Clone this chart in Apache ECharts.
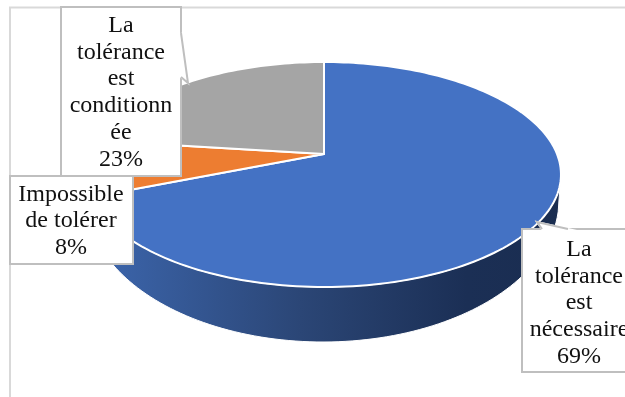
<!DOCTYPE html>
<html>
<head>
<meta charset="utf-8">
<style>html,body{margin:0;padding:0;background:#fff}#chart{width:625px;height:397px}</style>
<script src="https://cdn.jsdelivr.net/npm/echarts@6/dist/echarts.min.js"></script>
</head>
<body>
<div id="chart"></div>
<script>
// Parts of the pie, clockwise from twelve o'clock
const categories = ['La tolérance est nécessaire', 'Impossible de tolérer', 'La tolérance est conditionnée'];
const values = [69, 8, 23];
const colors = ['#4472C4', '#ED7D31', '#A5A5A5'];
const labelLines = [
  ['La', 'tolérance', 'est', 'nécessaire'],
  ['Impossible', 'de tolérer'],
  ['La', 'tolérance', 'est', 'conditionn', 'ée']
];

// Tilted disc: perspective projection of a unit circle around the pie's apex
const apex = { x: 324, y: 154 };
const farEdge = 92, nearEdge = 133, halfWidth = 233;
const k = (nearEdge - farEdge) / (nearEdge + farEdge);
const A = farEdge * (1 + k);
const total = values.reduce((a, b) => a + b, 0);

function project(theta) {
  const u = Math.sin(theta), v = Math.cos(theta), w = 1 + k * v;
  return [apex.x + halfWidth * u / w, apex.y - A * v / w];
}
function arc(from, to) {
  const pts = [], n = Math.max(2, Math.ceil(Math.abs(to - from) * 40));
  for (let i = 0; i <= n; i++) pts.push(project(from + (to - from) * i / n));
  return pts;
}
function sliceAngles(i) {
  const before = values.slice(0, i).reduce((a, b) => a + b, 0);
  return [before / total * 2 * Math.PI, (before + values[i]) / total * 2 * Math.PI];
}

// Lower rim of the disc's edge
const rim = { cx: 323, cy: 200, rx: 236, ry: 142 };
const rightExtreme = Math.PI / 2 + Math.asin(k);
const leftExtreme = 2 * Math.PI - rightExtreme;
function rimY(x) {
  const d = (x - rim.cx) / rim.rx;
  return rim.cy + rim.ry * Math.sqrt(Math.max(0, 1 - d * d));
}

// Callout boxes: rectangle plus pointer outline
const boxes = [
  { x: 522, y: 229, w: 112, h: 143, cx: 579, cy: 303, pointer: [[568, 229], [537, 222], [542, 229]] },
  { x: 10, y: 176, w: 123, h: 88, cx: 71, cy: 221, pointer: [] },
  { x: 61, y: 7, w: 120, h: 169, cx: 121, cy: 92.5, pointer: [[181, 33], [188, 83], [181, 77]] }
];

const option = {
  animation: false,
  backgroundColor: '#fff',
  graphic: [{
    type: 'polyline',
    silent: true,
    shape: { points: [[10, 397], [10, 7.5], [625, 7.5]] },
    style: { fill: null, stroke: '#D9D9D9', lineWidth: 2 }
  }],
  series: [
    {
      // Edge of the disc, visible along the near side
      type: 'custom',
      coordinateSystem: 'none',
      data: [total],
      silent: true,
      z: 2,
      renderItem: function () {
        const top = arc(rightExtreme, leftExtreme);
        const bottom = top.slice().reverse().map(function (p) {
          const x = Math.min(Math.max(p[0], rim.cx - rim.rx), rim.cx + rim.rx);
          return [x, rimY(x)];
        });
        return {
          type: 'polygon',
          shape: { points: top.concat(bottom) },
          style: {
            stroke: '#fff',
            lineWidth: 1,
            fill: {
              type: 'linear', x: 0, y: 0, x2: 1, y2: 0,
              colorStops: [
                { offset: 0, color: '#3D67AF' },
                { offset: 0.45, color: '#2B4676' },
                { offset: 0.8, color: '#1B2F55' },
                { offset: 1, color: '#1A2D50' }
              ]
            }
          }
        };
      }
    },
    {
      // Top face of the slices
      type: 'custom',
      coordinateSystem: 'none',
      data: values,
      silent: true,
      z: 3,
      renderItem: function (params) {
        const a = sliceAngles(params.dataIndex);
        return {
          type: 'polygon',
          shape: { points: [[apex.x, apex.y]].concat(arc(a[0], a[1])) },
          style: { fill: colors[params.dataIndex], stroke: '#fff', lineWidth: 2, lineJoin: 'round' }
        };
      }
    },
    {
      // Callouts: name over percentage, in a white bordered box
      type: 'custom',
      coordinateSystem: 'none',
      data: categories,
      silent: true,
      z: 4,
      renderItem: function (params) {
        const i = params.dataIndex, b = boxes[i];
        const children = [{
          type: 'rect',
          shape: { x: b.x, y: b.y, width: b.w, height: b.h },
          style: { fill: '#fff', stroke: '#BFBFBF', lineWidth: 2 }
        }];
        if (b.pointer.length) {
          children.push({
            type: 'polygon',
            shape: { points: b.pointer },
            style: { fill: '#fff', stroke: '#fff', lineWidth: 2 }
          }, {
            type: 'polyline',
            shape: { points: b.pointer },
            style: { fill: null, stroke: '#BFBFBF', lineWidth: 2 }
          });
        }
        children.push({
          type: 'text',
          style: {
            x: b.cx,
            y: b.cy,
            text: labelLines[i].concat(values[i] + '%').join('\n'),
            font: '24px "Liberation Serif"',
            lineHeight: 26.7,
            fill: '#111',
            align: 'center',
            verticalAlign: 'middle'
          }
        });
        return { type: 'group', children: children };
      }
    }
  ]
};

echarts.init(document.getElementById('chart'), null, { renderer: 'canvas' }).setOption(option);
</script>
</body>
</html>
